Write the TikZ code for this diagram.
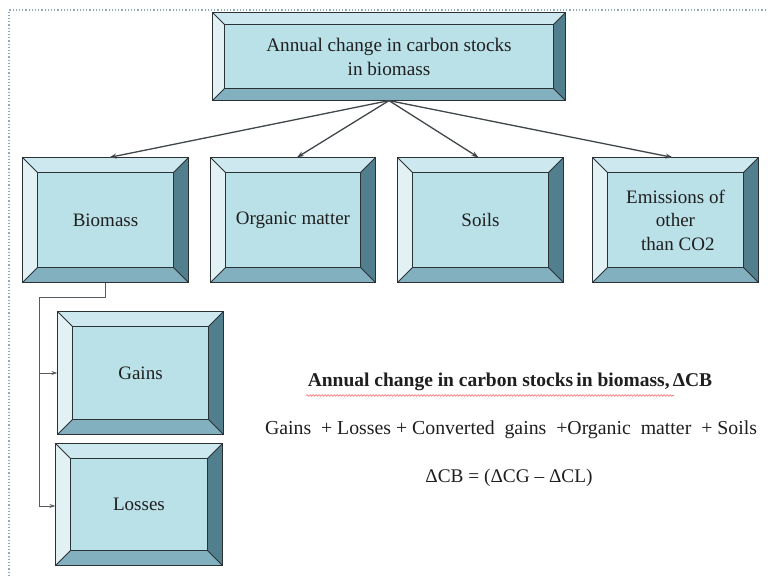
\documentclass[tikz,border=0pt]{standalone}
\usepackage{fontspec}
\setmainfont{Liberation Serif}
\usetikzlibrary{arrows.meta,decorations.pathmorphing}
\definecolor{bevmid}{HTML}{BAE0E8}
\definecolor{bevtopc}{HTML}{CDE8EE}
\definecolor{bevleftc}{HTML}{E2F1F4}
\definecolor{bevrightc}{HTML}{527F8E}
\definecolor{bevbotc}{HTML}{82B0BF}
\definecolor{edgec}{HTML}{2B3236}
\definecolor{framec}{HTML}{8FAABA}
\tikzset{
  bevbox/.style={rectangle, fill=bevmid, draw=edgec, line width=1.2pt, inner sep=0pt, align=center, font=\fontsize{19}{23.5}\selectfont, text=black!88},
  link/.style={draw=edgec!90, line width=1.3pt, -{Stealth[length=7pt,width=5pt]}},
  sublink/.style={draw=edgec!80, line width=1pt, -{Stealth[length=6pt,width=4pt]}},
}
\newcommand\bevel[2]{%
  \fill[bevtopc] (#1.north west) -- (#1.north east) -- ([shift={(-#2,-#2)}]#1.north east) -- ([shift={(#2,-#2)}]#1.north west) -- cycle;
  \fill[bevleftc] (#1.north west) -- (#1.south west) -- ([shift={(#2,#2)}]#1.south west) -- ([shift={(#2,-#2)}]#1.north west) -- cycle;
  \fill[bevrightc] (#1.north east) -- (#1.south east) -- ([shift={(-#2,#2)}]#1.south east) -- ([shift={(-#2,-#2)}]#1.north east) -- cycle;
  \fill[bevbotc] (#1.south west) -- (#1.south east) -- ([shift={(-#2,#2)}]#1.south east) -- ([shift={(#2,#2)}]#1.south west) -- cycle;
  \draw[edgec, line width=0.8pt] (#1.north west) -- ([shift={(#2,-#2)}]#1.north west)
     (#1.north east) -- ([shift={(-#2,-#2)}]#1.north east)
     (#1.south west) -- ([shift={(#2,#2)}]#1.south west)
     (#1.south east) -- ([shift={(-#2,#2)}]#1.south east);
  \draw[edgec, line width=1.2pt] ([shift={(#2,-#2)}]#1.north west) rectangle ([shift={(-#2,#2)}]#1.south east);
  \draw[edgec, line width=1.4pt] (#1.north west) rectangle (#1.south east);
}
\begin{document}
\begin{tikzpicture}[x=1pt,y=-1pt]
\useasboundingbox (0,0) rectangle (768,576);
\fill[white] (0,0) rectangle (768,576);
% dotted frame
\draw[framec, line width=1.2pt, dotted] (9,576) -- (9,10) -- (768,10);

% boxes
\node[bevbox, minimum width=352pt, minimum height=87pt, font=\fontsize{19.2}{24}\selectfont] (top) at (389,56.5) {Annual change in carbon stocks\\in biomass};
\bevel{top}{12pt}
\node[bevbox, minimum width=165pt, minimum height=124pt] (bio) at (105.5,220) {Biomass};
\bevel{bio}{15pt}
\node[bevbox, minimum width=164pt, minimum height=124pt] (org) at (293,220) {Organic matter};
\bevel{org}{15pt}
\node[bevbox, minimum width=165pt, minimum height=124pt] (soil) at (480.5,220) {Soils};
\bevel{soil}{15pt}
\node[bevbox, minimum width=165pt, minimum height=124pt] (emis) at (675.5,220) {Emissions of\\other\\\ than CO2};
\bevel{emis}{15pt}
\node[bevbox, minimum width=165pt, minimum height=122pt] (gain) at (140.5,373) {Gains};
\bevel{gain}{15pt}
\node[bevbox, minimum width=166pt, minimum height=121pt] (loss) at (139,504.5) {Losses};
\bevel{loss}{15pt}

% connectors from top box
\draw[link] (top.south) -- ([xshift=4pt]bio.north);
\draw[link] (top.south) -- ([xshift=4pt]org.north);
\draw[link] (top.south) -- ([xshift=-2pt]soil.north);
\draw[link] (top.south) -- ([xshift=-3pt]emis.north);

% biomass to gains / losses
\coordinate (bend) at ([yshift=-15pt]bio.south);
\coordinate (rail) at ([xshift=-18pt]gain.west);
\draw[sublink] (bio.south) -- (bend) -| (rail) -- (gain.west);
\draw[sublink] (rail) |- ([yshift=-1.5pt]loss.west);

% formula text
\node[font=\bfseries\fontsize{19.5}{22}\selectfont, text=black!88] (ttl) at (510,382) {Annual change in carbon stocks\,in biomass,\,ΔCB};
\draw[red!70, line width=0.5pt, decorate, decoration={snake, amplitude=0.8pt, segment length=3pt}]
  ([shift={(2pt,-1pt)}]ttl.south west) -- ([shift={(-42pt,-1pt)}]ttl.south east);
\node[font=\fontsize{19.8}{22}\selectfont, text=black!88] (sum) at (511,430) {Gains\ \ + Losses + Converted\ \ gains\ \ +Organic\ \ matter\ \ + Soils};
\node[font=\fontsize{19.3}{22}\selectfont, text=black!88] (eqn) at (509,478) {ΔCB = (ΔCG – ΔCL)};
\end{tikzpicture}
\end{document}
